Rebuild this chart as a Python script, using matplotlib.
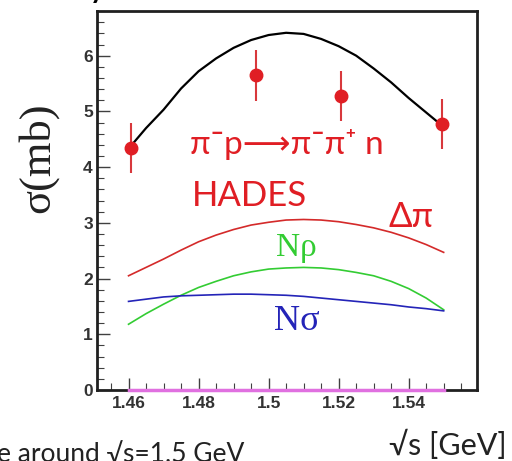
import matplotlib
matplotlib.use('Agg')
import matplotlib.pyplot as plt
from matplotlib.ticker import MultipleLocator

# measured points (HADES)
x_data = [1.4606, 1.4963, 1.5206, 1.5495]
y_data = [4.35, 5.65, 5.28, 4.77]
y_err = [0.45, 0.46, 0.45, 0.45]

# model curves
x_curve = [1.460, 1.465, 1.470, 1.475, 1.480, 1.485, 1.490, 1.495, 1.500, 1.505,
           1.510, 1.515, 1.520, 1.525, 1.530, 1.535, 1.540, 1.545, 1.550]
total = [4.33, 4.70, 5.03, 5.41, 5.72, 5.95, 6.14, 6.28, 6.37, 6.41,
         6.39, 6.30, 6.17, 6.00, 5.77, 5.52, 5.24, 4.98, 4.72]
delta_pi = [2.05, 2.20, 2.35, 2.51, 2.66, 2.78, 2.88, 2.96, 3.01, 3.05,
            3.06, 3.05, 3.02, 2.97, 2.91, 2.83, 2.73, 2.61, 2.47]
n_rho = [1.18, 1.37, 1.54, 1.70, 1.84, 1.95, 2.05, 2.12, 2.17, 2.19,
         2.20, 2.19, 2.16, 2.11, 2.05, 1.95, 1.82, 1.65, 1.44]
n_sigma = [1.59, 1.63, 1.67, 1.69, 1.70, 1.71, 1.72, 1.72, 1.71, 1.70,
           1.68, 1.65, 1.62, 1.59, 1.56, 1.53, 1.49, 1.46, 1.42]
other = [0.0] * len(x_curve)

x_ticks = [1.46, 1.48, 1.50, 1.52, 1.54]
x_tick_labels = ['1.46', '1.48', '1.5', '1.52', '1.54']
y_ticks = [0, 1, 2, 3, 4, 5, 6]

RED = '#e01e24'
GREEN = '#33cc33'
BLUE = '#2424b8'
SANS = ['Lato', 'DejaVu Sans']
SERIF = ['Liberation Serif', 'DejaVu Serif']

fig = plt.figure(figsize=(5.12, 4.61), dpi=100)
ax = fig.add_axes([0.1895, 0.154, 0.742, 0.822])

ax.plot(x_curve, total, color='black', lw=1.6, zorder=3)
ax.plot(x_curve, delta_pi, color='#d42a2a', lw=1.2)
ax.plot(x_curve, n_rho, color=GREEN, lw=1.2)
ax.plot(x_curve, n_sigma, color=BLUE, lw=1.2)
ax.plot(x_curve, other, color='#e070e0', lw=2.5, zorder=5, clip_on=False)

ax.errorbar(x_data, y_data, yerr=y_err, fmt='o', color=RED, ms=9,
            ecolor='#d8383c', elinewidth=1.5, capsize=0, zorder=4)

ax.set_xlim(1.451, 1.5595)
ax.set_ylim(0, 6.8)

# ROOT-like axes
ax.set_xticks(x_ticks)
ax.set_xticklabels(x_tick_labels)
ax.set_yticks(y_ticks)
ax.xaxis.set_minor_locator(MultipleLocator(0.005))
ax.yaxis.set_minor_locator(MultipleLocator(0.2))
ax.tick_params(which='both', direction='in', top=False, right=False,
               colors='#404040', labelcolor='#333333')
ax.tick_params(which='major', length=9, width=1, labelsize=12.5)
ax.tick_params(axis='x', which='major', pad=4)
ax.tick_params(axis='y', which='major', pad=3)
ax.tick_params(which='minor', length=5, width=0.8)
for lab in ax.get_xticklabels() + ax.get_yticklabels():
    lab.set_fontweight('bold')
    lab.set_family(['Liberation Sans', 'DejaVu Sans'])
for side in ['left', 'bottom', 'top', 'right']:
    ax.spines[side].set_linewidth(2)
    ax.spines[side].set_color('#202020')

# labels inside the frame
ax.text(1.4776, 4.23, 'π\u02c9p\u27f6π\u02c9π\u207a n', color=RED, fontsize=24,
        family=SANS, va='baseline', ha='left')
ax.text(1.4782, 3.30, 'HADES', color=RED, fontsize=25, family=SANS,
        va='baseline', ha='left')
ax.text(1.5343, 2.93, 'Δπ', color=RED, fontsize=25, family=SANS,
        va='baseline', ha='left')
ax.text(1.508, 2.40, 'Nρ', color=GREEN, fontsize=24, family=SERIF,
        va='baseline', ha='center')
ax.text(1.508, 1.08, 'Nσ', color=BLUE, fontsize=26, family=SERIF,
        va='baseline', ha='center')

# axis titles and clipped slide text
fig.text(0.074, 0.657, 'σ(mb)', rotation=90, fontsize=32, family=SERIF,
         va='center', ha='center', color='#222222')
fig.text(0.99, 0.012, '√s [GeV]', fontsize=22, family=SANS,
         ha='right', va='baseline', color='#222222')
fig.text(-0.006, -0.004, 'e around √s=1.5 GeV', fontsize=19, family=SANS,
         ha='left', va='baseline', color='#222222')
fig.text(0.175, 1.004, 'y', fontsize=20, fontweight='bold', family=SANS,
         ha='left', va='baseline', color='black')

fig.savefig('out.png', dpi=100)
